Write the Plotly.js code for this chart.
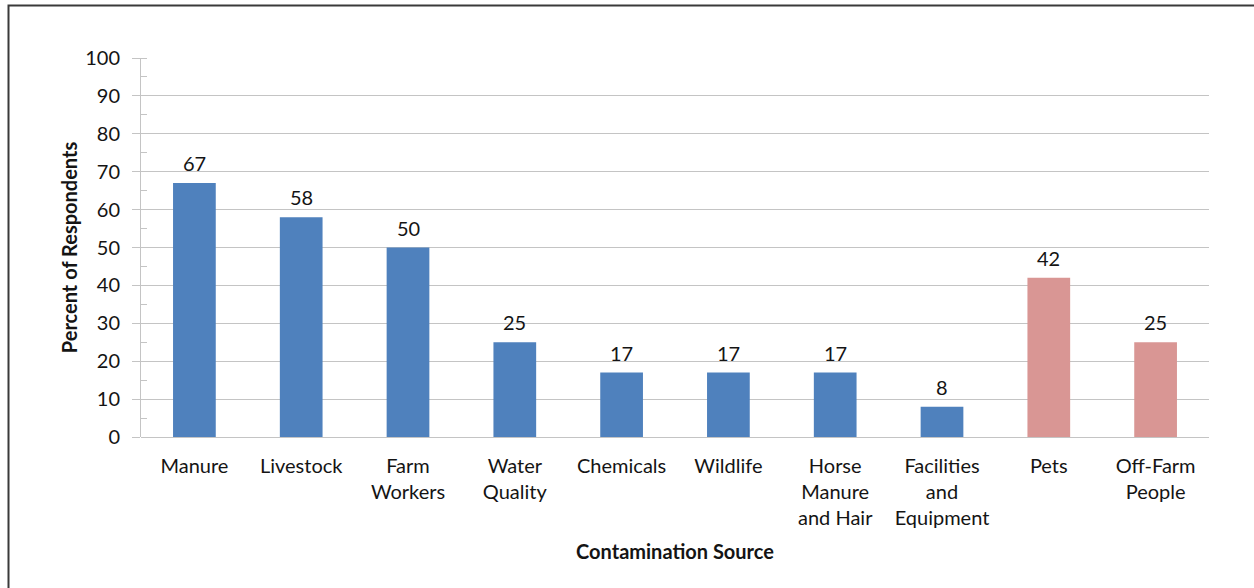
<!DOCTYPE html>
<html>
<head>
<meta charset="utf-8">
<script src="https://cdn.plot.ly/plotly-3.0.1.min.js"></script>
<style>
  html, body { margin: 0; padding: 0; background: #ffffff; }
  #chart { width: 1254px; height: 588px; }
</style>
</head>
<body>
<div id="chart"></div>
<script>
// ---- data ----
const farmSources = ["Manure", "Livestock", "Farm Workers", "Water Quality", "Chemicals", "Wildlife", "Horse Manure and Hair", "Facilities and Equipment"];
const farmValues = [67, 58, 50, 25, 17, 17, 17, 8];
const otherSources = ["Pets", "Off-Farm People"];
const otherValues = [42, 25];
const tickLabels = ["Manure", "Livestock", "Farm<br>Workers", "Water<br>Quality", "Chemicals", "Wildlife", "Horse<br>Manure<br>and Hair", "Facilities<br>and<br>Equipment", "Pets", "Off-Farm<br>People"];
const yTitle = "Percent of Respondents";
const xTitle = "Contamination Source";

const allSources = farmSources.concat(otherSources);
const allValues = farmValues.concat(otherValues);

const FONT = "Lato, 'Open Sans', sans-serif";
const TXT = "#141414";
const GRID = "#c4c4c4";

const traces = [
  { type: "bar", x: farmSources, y: farmValues, marker: { color: "#4f81bd" }, width: 0.4, hoverinfo: "x+y" },
  { type: "bar", x: otherSources, y: otherValues, marker: { color: "#d99694" }, width: 0.4, hoverinfo: "x+y" }
];

const annotations = allSources.map((s, i) => ({
  x: s, y: allValues[i], xref: "x", yref: "y",
  text: String(allValues[i]), showarrow: false,
  yanchor: "bottom", yshift: 6,
  font: { family: FONT, size: 20, color: TXT }
}));

// outer frame (left and top edges visible; right/bottom run past the page)
const L = 141, R = 1209, T = 58, B = 437;
const px = v => (v - L) / (R - L);
const py = v => (B - v) / (B - T);

const layout = {
  width: 1254, height: 588,
  margin: { l: L, r: 1254 - R, t: T, b: 588 - B, pad: 0 },
  paper_bgcolor: "#ffffff", plot_bgcolor: "#ffffff",
  showlegend: false,
  barmode: "overlay",
  font: { family: FONT, size: 20, color: TXT },
  xaxis: {
    type: "category",
    categoryorder: "array", categoryarray: allSources,
    tickvals: allSources, ticktext: tickLabels,
    showgrid: false, showline: false, zeroline: false,
    ticks: "", ticklabelstandoff: 15,
    tickfont: { family: FONT, size: 20, color: TXT },
    title: { text: "<b>" + xTitle + "</b>", font: { family: FONT, size: 20, color: TXT }, standoff: 16 },
    fixedrange: true
  },
  yaxis: {
    range: [0, 100], dtick: 10, tick0: 0,
    showgrid: true, gridcolor: GRID, gridwidth: 1,
    showline: true, linecolor: GRID, linewidth: 1,
    zeroline: true, zerolinecolor: GRID, zerolinewidth: 1,
    ticks: "outside", ticklen: 8, tickcolor: GRID, tickwidth: 1,
    minor: { dtick: 5, ticks: "inside", ticklen: 6, tickcolor: GRID, showgrid: false },
    ticklabelstandoff: 8,
    tickfont: { family: FONT, size: 20, color: TXT },
    title: { text: "<b>" + yTitle + "</b>", font: { family: FONT, size: 20, color: TXT }, standoff: 2 },
    fixedrange: true
  },
  annotations: annotations,
  shapes: [{
    type: "rect", xref: "paper", yref: "paper", layer: "above",
    x0: px(8.5), x1: px(1262), y0: py(596), y1: py(5.5),
    line: { color: "#3a3a3a", width: 2 }, fillcolor: "rgba(0,0,0,0)"
  }]
};

Plotly.newPlot("chart", traces, layout, { displayModeBar: false, staticPlot: true });
</script>
</body>
</html>
